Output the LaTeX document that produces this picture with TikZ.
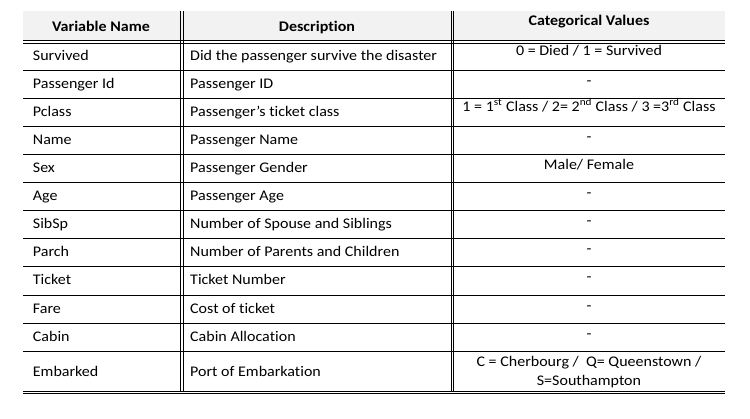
\documentclass[tikz,border=0pt]{standalone}
\usepackage{fontspec}
\setmainfont{Carlito}[Ligatures=NoCommon, FakeStretch=1.09]
\definecolor{headgray}{HTML}{F2F2F2}
\newcommand{\cellfont}{\fontsize{14.7}{19}\selectfont}
\tikzset{
  headcell/.style={anchor=base, inner sep=0pt, font=\cellfont\bfseries},
  varcell/.style={anchor=base west, inner sep=0pt},
  desccell/.style={anchor=base west, inner sep=0pt},
  valcell/.style={anchor=base, inner sep=0pt},
  rule/.style={line width=0.8pt},
}

\begin{document}
\begin{tikzpicture}[x=1pt, y=-1pt, font=\cellfont]
  \useasboundingbox (0,0) rectangle (750,418);
  \fill[headgray] (23,11) rectangle (725,40.5);
  % header
  \node[headcell] (hvar) at (101,31.7) {Variable Name};
  \node[headcell] (hdesc) at (317,31.7) {Description};
  \node[headcell] (hval) at (589,25) {Categorical Values};
  % double rules
  \draw[rule] (23,40.5) -- (725,40.5);
  \draw[rule] (23,43.3) -- (725,43.3);
  \draw[rule] (23,391) -- (725,391);
  \draw[rule] (23,393.7) -- (725,393.7);
  \draw[rule] (180.3,11) -- (180.3,391);
  \draw[rule] (182.9,11) -- (182.9,391);
  \draw[rule] (451.1,11) -- (451.1,391);
  \draw[rule] (453.7,11) -- (453.7,391);
  % row rules
  \draw[rule] (23,70) -- (725,70);
  \draw[rule] (23,98) -- (725,98);
  \draw[rule] (23,126) -- (725,126);
  \draw[rule] (23,154) -- (725,154);
  \draw[rule] (23,182) -- (725,182);
  \draw[rule] (23,210) -- (725,210);
  \draw[rule] (23,238) -- (725,238);
  \draw[rule] (23,266) -- (725,266);
  \draw[rule] (23,295) -- (725,295);
  \draw[rule] (23,323) -- (725,323);
  \draw[rule] (23,351) -- (725,351);
  % rows
  \node[varcell] (var1) at (32.7,60.7) {Survived};
  \node[desccell] (desc1) at (190,60.7) {Did the passenger survive the disaster};
  \node[valcell] (val1) at (589,55) {0 = Died / 1 = Survived};
  \node[varcell] (var2) at (32.7,88.7) {Passenger Id};
  \node[desccell] (desc2) at (190,88.7) {Passenger ID};
  \node[valcell] (val2) at (589,85.5) {-};
  \node[varcell] (var3) at (32.7,116.7) {Pclass};
  \node[desccell] (desc3) at (190,116.7) {Passenger’s ticket class};
  \node[valcell] (val3) at (589,111) {1 = 1\textsuperscript{st} Class / 2= 2\textsuperscript{nd} Class / 3 =3\textsuperscript{rd} Class};
  \node[varcell] (var4) at (32.7,144.7) {Name};
  \node[desccell] (desc4) at (190,144.7) {Passenger Name};
  \node[valcell] (val4) at (589,141.5) {-};
  \node[varcell] (var5) at (32.7,172.7) {Sex};
  \node[desccell] (desc5) at (190,172.7) {Passenger Gender};
  \node[valcell] (val5) at (589,169.5) {Male/ Female};
  \node[varcell] (var6) at (32.7,200.7) {Age};
  \node[desccell] (desc6) at (190,200.7) {Passenger Age};
  \node[valcell] (val6) at (589,197.5) {-};
  \node[varcell] (var7) at (32.7,228.7) {SibSp};
  \node[desccell] (desc7) at (190,228.7) {Number of Spouse and Siblings};
  \node[valcell] (val7) at (589,225.5) {-};
  \node[varcell] (var8) at (32.7,256.7) {Parch};
  \node[desccell] (desc8) at (190,256.7) {Number of Parents and Children};
  \node[valcell] (val8) at (589,253.5) {-};
  \node[varcell] (var9) at (32.7,284.7) {Ticket};
  \node[desccell] (desc9) at (190,284.7) {Ticket Number};
  \node[valcell] (val9) at (589,281.5) {-};
  \node[varcell] (var10) at (32.7,313.7) {Fare};
  \node[desccell] (desc10) at (190,313.7) {Cost of ticket};
  \node[valcell] (val10) at (589,310.5) {-};
  \node[varcell] (var11) at (32.7,341.7) {Cabin};
  \node[desccell] (desc11) at (190,341.7) {Cabin Allocation};
  \node[valcell] (val11) at (589,338.5) {-};
  \node[varcell] (var12) at (32.7,376.7) {Embarked};
  \node[desccell] (desc12) at (190,376.7) {Port of Embarkation};
  \node[valcell] (val12) at (589,366.7) {C = Cherbourg /\ \ Q= Queenstown /};
  \node[valcell] (val12b) at (589,385.7) {S=Southampton};
\end{tikzpicture}
\end{document}
